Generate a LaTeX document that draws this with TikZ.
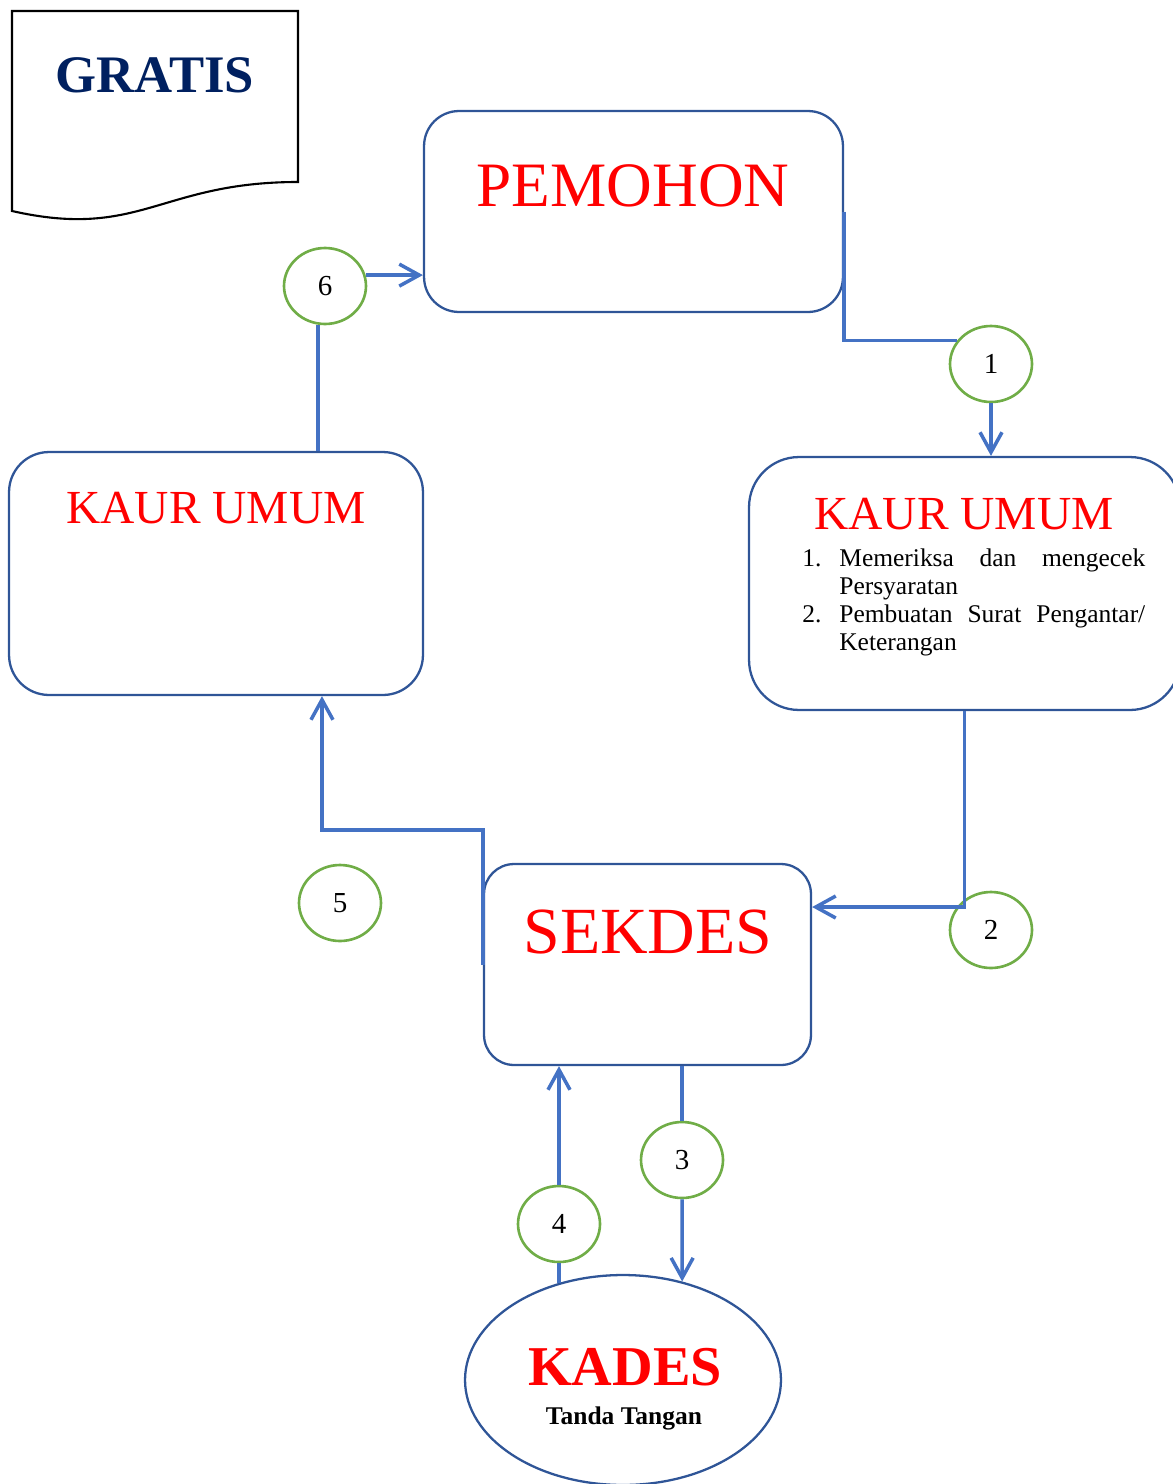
\documentclass[tikz,border=0pt]{standalone}
\usepackage{fontspec}
\setmainfont{Liberation Serif}
\usetikzlibrary{shapes.geometric,arrows.meta}
\definecolor{boxblue}{RGB}{47,85,151}
\definecolor{lineblue}{RGB}{68,114,196}
\definecolor{numgreen}{RGB}{112,173,71}
\definecolor{gratisblue}{RGB}{0,32,96}

\begin{document}
\begin{tikzpicture}[x=0.02cm, y=-0.02cm,
box/.style = {shape=rectangle, draw=boxblue, line width=1.3pt},
title/.style = {text=red, inner sep=0pt, font=\fontsize{36}{40}\selectfont},
num/.style = {shape=ellipse, draw=numgreen, line width=1.5pt,
	minimum width=1.64cm, minimum height=1.52cm, inner sep=0pt,
	font=\fontsize{16.5}{18}\selectfont},
link/.style = {draw=lineblue, line width=2pt},
arr/.style = {link, -{Straight Barb[length=4mm,width=4.4mm]}}]

\useasboundingbox (0,0) rectangle (1173,1484);

\draw[line width=1.2pt] (12,11) -- (298,11) -- (298,182)
	.. controls (160,182) and (140,240) .. (12,211) -- cycle;
\node[inner sep=0pt, text=gratisblue, font=\fontsize{30}{32}\selectfont\bfseries] (gratis) at (155,75) {GRATIS};

\node[box, rounded corners=0.7cm, minimum width=8.38cm, minimum height=4.02cm] (pemohon) at (633.5,211.5) {};
\node[title] (pemohonT) at (633,186) {PEMOHON};

\node[box, rounded corners=0.8cm, minimum width=8.28cm, minimum height=4.86cm] (kaurL) at (216,573.5) {};
\node[title, font=\fontsize{27}{30}\selectfont] (kaurLT) at (216,508) {KAUR UMUM};

\node[box, rounded corners=1cm, minimum width=8.62cm, minimum height=5.06cm] (kaurR) at (964.5,583.5) {};
\node[title, font=\fontsize{27}{30}\selectfont] (kaurRT) at (964,514) {KAUR UMUM};
\node[inner sep=0pt, anchor=north west, font=\fontsize{14.5}{16}\selectfont] (kaurRL) at (802,546) {%
	\begin{tabular}{@{}p{0.74cm}@{}p{6.12cm}@{}}
	1. & Memeriksa\hfill dan\hfill mengecek\newline Persyaratan \\
	2. & Pembuatan\hfill Surat\hfill Pengantar/\newline Keterangan
	\end{tabular}};

\node[box, rounded corners=0.6cm, minimum width=6.54cm, minimum height=4.02cm] (sekdes) at (647.5,964.5) {};
\node[title, font=\fontsize{37.5}{40}\selectfont] (sekdesT) at (648,932) {SEKDES};

\node[shape=ellipse, draw=boxblue, line width=1.3pt, minimum width=6.32cm, minimum height=4.2cm] (kades) at (623,1380) {};
\node[inner sep=0pt, text=red, font=\fontsize{32}{36}\selectfont\bfseries] (kadesT) at (625,1367) {KADES};
\node[inner sep=0pt, font=\fontsize{14.5}{16}\selectfont\bfseries] (kadesS) at (624,1418) {Tanda Tangan};

\node[num] (n1) at (991,364) {1};
\node[num] (n2) at (991,930) {2};
\node[num] (n3) at (682,1160) {3};
\node[num] (n4) at (559,1224) {4};
\node[num] (n5) at (340,903) {5};
\node[num] (n6) at (325,286) {6};

\draw[link] (pemohon.east) |- (n1.145);
\draw[arr] (n1.south) -- (n1.south |- kaurR.north);
\draw[arr] (kaurR.south) |- ([yshift=1.15cm]sekdes.east);
\draw[link] (n3.north |- sekdes.south) -- (n3.north);
\draw[arr] (n3.south) -- (kades.59);
\draw[link] (n4.south |- kades.124) -- (n4.south);
\draw[arr] (n4.north) -- (n4.north |- sekdes.south);
\draw[arr] (sekdes.west) -- ++(0,-134.5) -| ([xshift=2.12cm]kaurL.south);
\draw[link] (kaurL.north -| n6.260) -- (n6.260);
\draw[arr] (n6.15) -- (n6.15 -| pemohon.west);
\end{tikzpicture}
\end{document}
